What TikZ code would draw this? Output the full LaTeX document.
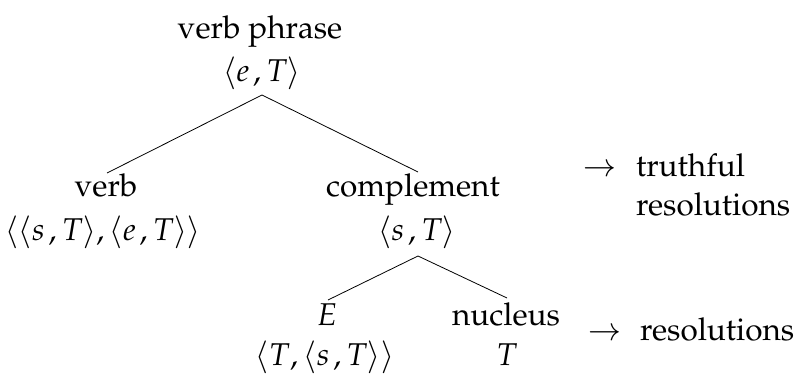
\documentclass[tikz,border=0pt]{standalone}
\usepackage[T1]{fontenc}
\usepackage{mathpazo}
\newcommand{\cm}{\mkern2mu,}
\begin{document}
\begin{tikzpicture}[x=1pt,y=-1pt,
  lab/.style={font=\fontsize{31.5}{37}\selectfont, inner sep=0pt, anchor=base},
  edge/.style={line width=0.8pt, black}]
\useasboundingbox (0,0) rectangle (798,374);
% root
\node[lab] (vp) at (260,39) {verb phrase};
\node[lab] (vpt) at (262,82) {$\langle e\cm T\rangle$};
% level 2
\node[lab] (v) at (106,197) {verb};
\node[lab] (vt) at (103,241) {$\langle\langle s\cm T\rangle,\langle e\cm T\rangle\rangle$};
\node[lab] (c) at (413,197) {complement};
\node[lab] (ct) at (417,241) {$\langle s\cm T\rangle$};
% level 3
\node[lab] (e) at (327,325) {$E$};
\node[lab] (et) at (325,365) {$\langle T,\langle s\cm T\rangle\rangle$};
\node[lab] (n) at (506,325) {nucleus};
\node[lab] (nt) at (507,365) {$T$};
% annotations
\node[lab] (ar1) at (600,177) {$\rightarrow$};
\node[lab,anchor=base west] (tr1) at (636,177) {truthful};
\node[lab,anchor=base west] (tr2) at (636,216) {resolutions};
\node[lab] (ar2) at (605,340) {$\rightarrow$};
\node[lab,anchor=base west] (rs) at (640,340) {resolutions};
% connectors
\coordinate (ap1) at (262,95);
\coordinate (lv) at (107,173);
\coordinate (lc) at (418,172);
\coordinate (ap2) at (418,256);
\coordinate (le) at (328,300);
\coordinate (ln) at (507,298);
\draw[edge] (lv) -- (ap1) -- (lc);
\draw[edge] (le) -- (ap2) -- (ln);
\end{tikzpicture}
\end{document}
